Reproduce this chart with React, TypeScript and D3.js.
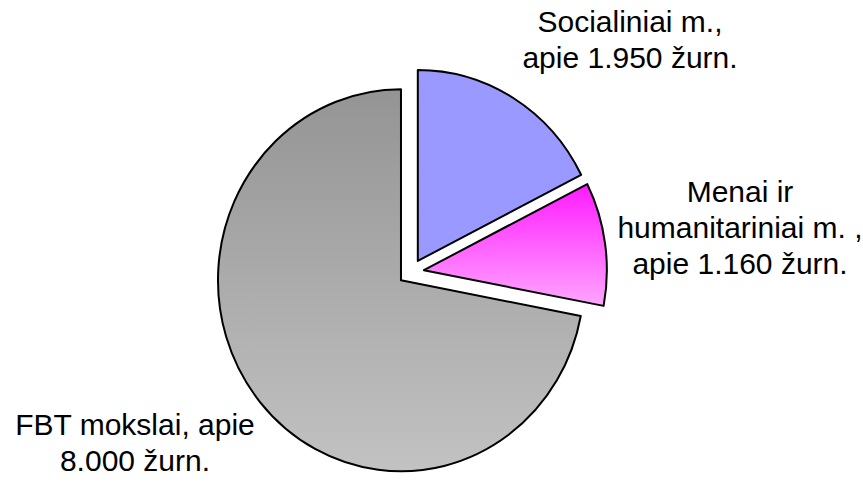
import React from 'react';
import * as d3 from 'd3';

// journal counts by field
const categories = ['Socialiniai m.', 'Menai ir humanitariniai m.', 'FBT mokslai'];
const journals = [1950, 1160, 8000];
const labelLines = [
  ['Socialiniai m.,', 'apie 1.950 žurn.'],
  ['Menai ir', 'humanitariniai m. ,', 'apie 1.160 žurn.'],
  ['FBT mokslai, apie', '8.000 žurn.'],
];

const W = 863;
const H = 482;
const cx = 411;
const cy = 272;
const rx = 183;
const ry = 191;
const explode = 13;

// where each label block sits (center x, first baseline y)
const labelAt = [
  { x: 630, y: 32 },
  { x: 740, y: 202 },
  { x: 135, y: 435 },
];
const lineGap = 36;

const fills = ['#9999ff', 'url(#gMag)', 'url(#gGrey)'];

const App: React.FC = () => {
  const pie = d3.pie<number>().sort(null).value(d => d);
  const arcs = pie(journals);

  const pt = (a: number, ox: number, oy: number) =>
    [ox + rx * Math.sin(a), oy - ry * Math.cos(a)];

  const slicePath = (a0: number, a1: number) => {
    const mid = (a0 + a1) / 2;
    const ox = cx + explode * Math.sin(mid);
    const oy = cy - explode * Math.cos(mid);
    const [x0, y0] = pt(a0, ox, oy);
    const [x1, y1] = pt(a1, ox, oy);
    const large = a1 - a0 > Math.PI ? 1 : 0;
    const p = d3.path();
    p.moveTo(ox, oy);
    p.lineTo(x0, y0);
    return `${p.toString()}A${rx},${ry} 0 ${large} 1 ${x1},${y1}Z`;
  };

  return (
    <svg width={W} height={H} style={{ position: 'absolute', left: 0, top: 0, background: '#fff' }}>
      <defs>
        <linearGradient id="gMag" x1="0" y1="0" x2="0" y2="1">
          <stop offset="0" stopColor="#ff1aff" />
          <stop offset="1" stopColor="#ffa6ff" />
        </linearGradient>
        <linearGradient id="gGrey" x1="0" y1="0" x2="0" y2="1">
          <stop offset="0" stopColor="#949494" />
          <stop offset="1" stopColor="#c2c2c2" />
        </linearGradient>
      </defs>
      {arcs.map((a, i) => (
        <path
          key={categories[i]}
          d={slicePath(a.startAngle, a.endAngle)}
          fill={fills[i]}
          stroke="#000"
          strokeWidth={2}
          strokeLinejoin="round"
        />
      ))}
      {labelLines.map((lines, i) => (
        <text
          key={categories[i]}
          textAnchor="middle"
          fontFamily="'Liberation Sans', Arial, sans-serif"
          fontSize={30}
          fill="#000"
        >
          {lines.map((l, j) => (
            <tspan key={j} x={labelAt[i].x} y={labelAt[i].y + j * lineGap}>{l}</tspan>
          ))}
        </text>
      ))}
    </svg>
  );
};

export default App;
